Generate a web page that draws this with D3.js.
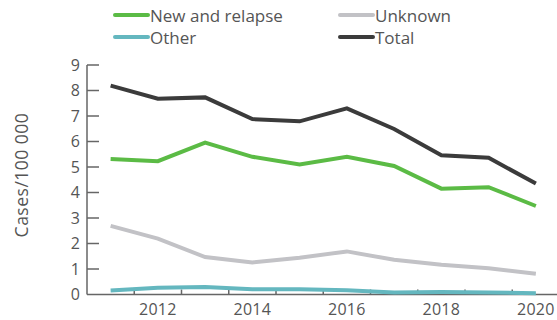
<!DOCTYPE html>
<html><head><meta charset="utf-8">
<script src="https://cdn.jsdelivr.net/npm/d3@7"></script>
<style>body{margin:0;background:#fff}svg{display:block}</style>
</head><body>
<svg id="c" width="557" height="320"></svg>
<script>
const years = [2011,2012,2013,2014,2015,2016,2017,2018,2019,2020];
const newRelapse = [5.31,5.23,5.96,5.40,5.10,5.40,5.04,4.15,4.21,3.47];
const unknown = [2.69,2.19,1.47,1.26,1.44,1.69,1.36,1.17,1.03,0.81];
const other = [0.16,0.26,0.29,0.21,0.21,0.17,0.08,0.10,0.08,0.05];
const total = [8.19,7.68,7.73,6.88,6.79,7.30,6.49,5.46,5.36,4.35];
const yTicks = [0,1,2,3,4,5,6,7,8,9];
const xLabels = [2012,2014,2016,2018,2020];
const seriesNames = ["New and relapse","Unknown","Other","Total"];
const colors = {"New and relapse":"#5bbb45","Unknown":"#c2c2c6","Other":"#64b7bf","Total":"#3b3b3b"};

const svg = d3.select("#c");
const x = d3.scaleBand().domain(years).range([87,559.5]);
const y = d3.scaleLinear().domain([0,9]).range([294.5,65]);
const txt = "#555";
const ax = "#666";
const font = "Open Sans";

// y axis
svg.append("line").attr("x1",87).attr("x2",87).attr("y1",y(9)).attr("y2",y(0)).attr("stroke",ax).attr("stroke-width",1.5);
yTicks.forEach(t=>{
  if(t>0) svg.append("line").attr("x1",87).attr("x2",99).attr("y1",y(t)).attr("y2",y(t)).attr("stroke",ax).attr("stroke-width",1.5);
  svg.append("text").attr("x",80).attr("y",y(t)).attr("dy","0.36em").attr("text-anchor","end")
    .attr("font-family",font).attr("font-size",16).attr("fill",txt).text(t);
});
// x axis
svg.append("line").attr("x1",87).attr("x2",557).attr("y1",y(0)).attr("y2",y(0)).attr("stroke",ax).attr("stroke-width",1.5);
years.slice(1).forEach(yr=>{
  svg.append("line").attr("x1",x(yr)).attr("x2",x(yr)).attr("y1",y(0)).attr("y2",y(0)-5).attr("stroke",ax).attr("stroke-width",1.5);
});
xLabels.forEach(yr=>{
  svg.append("text").attr("x",x(yr)+x.bandwidth()/2).attr("y",309).attr("dy","0.36em").attr("text-anchor","middle")
    .attr("font-family",font).attr("font-size",16).attr("letter-spacing",0.3).attr("fill",txt).text(yr);
});
// y label
svg.append("text").attr("transform","translate(22,175) rotate(-90)").attr("text-anchor","middle").attr("dy","0.36em")
  .attr("font-family",font).attr("font-size",17.5).attr("letter-spacing",0.5).attr("fill",txt).text("Cases/100 000");

const data = {"New and relapse":newRelapse,"Unknown":unknown,"Other":other,"Total":total};
const line = d3.line().x((d,i)=>x(years[i])+x.bandwidth()/2).y(d=>y(d));
["Unknown","Other","New and relapse","Total"].forEach(n=>{
  svg.append("path").datum(data[n]).attr("d",line).attr("fill","none").attr("stroke",colors[n])
    .attr("stroke-width",4).attr("stroke-linejoin","miter");
});

// legend
const legPos = [[115,15],[340,15],[115,37],[340,37]];
seriesNames.forEach((n,i)=>{
  const [lx,ly]=legPos[i];
  svg.append("line").attr("x1",lx).attr("x2",lx+33).attr("y1",ly).attr("y2",ly).attr("stroke",colors[n]).attr("stroke-width",4).attr("stroke-linecap","round");
  svg.append("text").attr("x",lx+35).attr("y",ly+1).attr("dy","0.36em").attr("font-family",font).attr("font-size",17).attr("fill",txt).text(n);
});
</script>
</body></html>
